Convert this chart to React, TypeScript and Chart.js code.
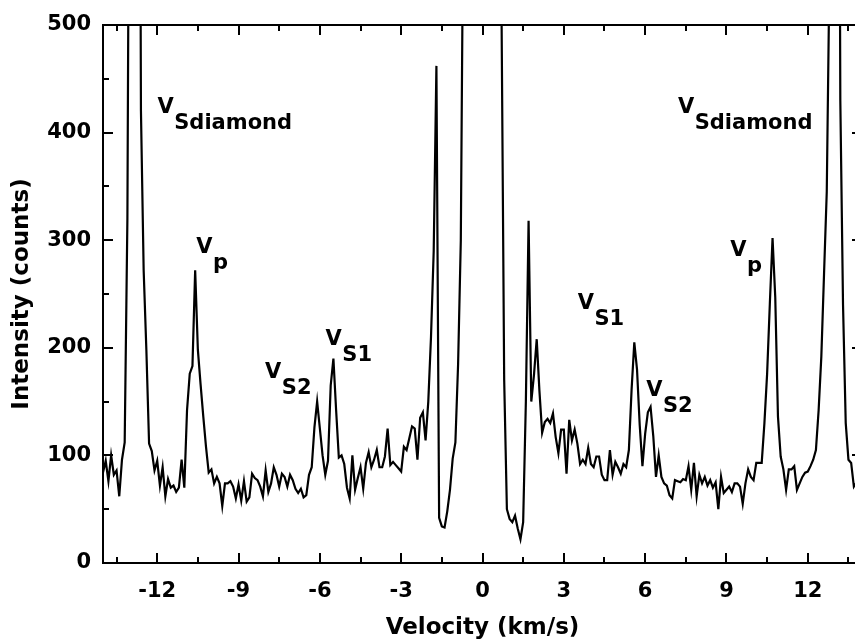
import React, { useEffect, useRef } from 'react';
import { Chart, registerables } from 'chart.js';

Chart.register(...registerables);

// Velocity channel grid (km/s)
const velocityStart = -14;
const velocityStep = 0.1;

// Intensity (counts), one value per 0.1 km/s channel from -14.0 to 14.0
const intensity: number[] = [
  // -14.0 .. -13.1
  84, 95, 76, 100, 82, 86, 62, 96, 112, 320,
  // -13.0 .. -12.1
  900, 1500, 1800, 1200, 420, 272, 198, 111, 104, 86,
  // -12.0 .. -11.1
  95, 72, 89, 62, 78, 70, 72, 66, 70, 96,
  // -11.0 .. -10.1
  70, 142, 176, 183, 272, 198, 166, 136, 108, 84,
  // -10.0 .. -9.1
  87, 74, 80, 74, 53, 74, 74, 76, 71, 60,
  // -9.0 .. -8.1
  73, 58, 76, 57, 61, 83, 79, 77, 71, 62,
  // -8.0 .. -7.1
  86, 66, 74, 89, 82, 71, 83, 80, 71, 82,
  // -7.0 .. -6.1
  77, 69, 65, 69, 61, 63, 82, 89, 126, 150,
  // -6.0 .. -5.1
  125, 100, 82, 95, 165, 190, 142, 98, 100, 92,
  // -5.0 .. -4.1
  70, 60, 100, 68, 79, 89, 69, 93, 103, 89,
  // -4.0 .. -3.1
  96, 105, 89, 89, 99, 125, 91, 94, 91, 88,
  // -3.0 .. -2.1
  85, 108, 105, 116, 127, 125, 96, 135, 140, 114,
  // -2.0 .. -1.1
  150, 210, 290, 462, 42, 34, 33, 48, 68, 97,
  // -1.0 .. -0.1
  112, 185, 300, 650, 1500, 3000, 5000, 7000, 8000, 9000,
  // 0.0 .. 0.9
  9000, 9000, 8000, 7000, 5000, 3000, 1500, 520, 170, 50,
  // 1.0 .. 1.9
  41, 38, 44, 32, 22, 38, 150, 318, 150, 175,
  // 2.0 .. 2.9
  208, 160, 121, 131, 134, 130, 139, 117, 102, 124,
  // 3.0 .. 3.9
  124, 83, 133, 114, 124, 111, 92, 96, 92, 107,
  // 4.0 .. 4.9
  92, 89, 99, 99, 82, 77, 77, 105, 82, 94,
  // 5.0 .. 5.9
  89, 83, 92, 89, 105, 161, 205, 180, 128, 90,
  // 6.0 .. 6.9
  120, 140, 145, 118, 80, 100, 80, 74, 72, 63,
  // 7.0 .. 7.9
  60, 77, 76, 75, 78, 77, 90, 68, 93, 62,
  // 8.0 .. 8.9
  82, 74, 80, 72, 77, 70, 75, 50, 80, 65,
  // 9.0 .. 9.9
  68, 71, 66, 74, 74, 71, 55, 74, 87, 80,
  // 10.0 .. 10.9
  77, 93, 93, 93, 130, 176, 241, 302, 247, 136,
  // 11.0 .. 11.9
  99, 87, 68, 87, 87, 90, 68, 74, 80, 84,
  // 12.0 .. 12.9
  85, 90, 96, 105, 142, 192, 269, 345, 550, 1500,
  // 13.0 .. 13.9
  1800, 1200, 430, 240, 130, 96, 93, 71, 75, 80,
  // 14.0
  78,
];

const velocity: number[] = intensity.map((_, i) => +(velocityStart + i * velocityStep).toFixed(2));

const xMajorTicks = [-12, -9, -6, -3, 0, 3, 6, 9, 12];
const xMinorTicks = [-13.5, -10.5, -7.5, -4.5, -1.5, 1.5, 4.5, 7.5, 10.5, 13.5];
const yMajorTicks = [0, 100, 200, 300, 400, 500];
const yMinorTicks = [50, 150, 250, 350, 450];

// Peak labels: main letter, subscript, anchor (velocity, intensity)
const peakLabels = [
  { main: 'V', sub: 'Sdiamond', v: -11.99, i: 418 },
  { main: 'V', sub: 'p', v: -10.56, i: 288 },
  { main: 'V', sub: 'S2', v: -8.02, i: 172 },
  { main: 'V', sub: 'S1', v: -5.79, i: 203 },
  { main: 'V', sub: 'S1', v: 3.51, i: 236 },
  { main: 'V', sub: 'S2', v: 6.04, i: 155 },
  { main: 'V', sub: 'p', v: 9.14, i: 285 },
  { main: 'V', sub: 'Sdiamond', v: 7.21, i: 418 },
];

const FONT = '"DejaVu Sans", "Liberation Sans", sans-serif';

const framePlugin = {
  id: 'framePlugin',
  afterDatasetsDraw(chart: any) {
    const { ctx, chartArea: a, scales } = chart;
    const x = scales.x;
    const y = scales.y;
    ctx.save();
    ctx.strokeStyle = '#000';
    ctx.lineWidth = 2;
    ctx.beginPath();
    const major = 10;
    const minor = 6;
    const xt = (vals: number[], len: number) => {
      vals.forEach((v) => {
        const px = Math.round(x.getPixelForValue(v));
        ctx.moveTo(px, a.bottom);
        ctx.lineTo(px, a.bottom - len);
        ctx.moveTo(px, a.top);
        ctx.lineTo(px, a.top + len);
      });
    };
    const yt = (vals: number[], len: number) => {
      vals.forEach((v) => {
        const py = Math.round(y.getPixelForValue(v));
        ctx.moveTo(a.left, py);
        ctx.lineTo(a.left + len, py);
        ctx.moveTo(a.right, py);
        ctx.lineTo(a.right - len, py);
      });
    };
    xt(xMajorTicks, major);
    xt(xMinorTicks, minor);
    yt(yMajorTicks, major);
    yt(yMinorTicks, minor);
    ctx.stroke();
    ctx.strokeRect(a.left, a.top, a.right - a.left, a.bottom - a.top);

    ctx.fillStyle = '#000';
    ctx.textBaseline = 'alphabetic';
    ctx.textAlign = 'left';
    peakLabels.forEach((l) => {
      const px = x.getPixelForValue(l.v);
      const py = y.getPixelForValue(l.i);
      ctx.font = `bold 21px ${FONT}`;
      ctx.fillText(l.main, px, py);
      const w = ctx.measureText(l.main).width;
      ctx.font = `bold 21px ${FONT}`;
      ctx.fillText(l.sub, px + w + 0.5, py + 16);
    });
    ctx.restore();
  },
};

export default function App() {
  const ref = useRef<HTMLCanvasElement | null>(null);

  useEffect(() => {
    if (!ref.current) return;
    const chart = new Chart(ref.current, {
      type: 'line',
      data: {
        datasets: [
          {
            data: velocity.map((v, k) => ({ x: v, y: intensity[k] })),
            borderColor: '#000',
            borderWidth: 2.2,
            pointRadius: 0,
            tension: 0,
            fill: false,
            clip: 0,
          },
        ],
      },
      options: {
        animation: false,
        responsive: false,
        devicePixelRatio: 1,
        layout: { padding: { left: 0, top: 25, right: 8, bottom: 0 } },
        plugins: { legend: { display: false }, tooltip: { enabled: false } },
        scales: {
          x: {
            type: 'linear',
            min: -14,
            max: 14,
            afterBuildTicks: (s: any) => {
              s.ticks = xMajorTicks.map((v) => ({ value: v }));
            },
            afterFit: (s: any) => {
              s.height = 81;
            },
            grid: { display: false, drawTicks: false },
            border: { display: false },
            ticks: {
              color: '#000',
              padding: 16,
              maxRotation: 0,
              autoSkip: false,
              font: { family: FONT, size: 21, weight: 'bold' },
            },
            title: {
              display: true,
              text: 'Velocity (km/s)',
              color: '#000',
              font: { family: FONT, size: 23, weight: 'bold' },
              padding: { top: 0, bottom: 2 },
            },
          },
          y: {
            type: 'linear',
            min: 0,
            max: 500,
            afterBuildTicks: (s: any) => {
              s.ticks = yMajorTicks.map((v) => ({ value: v }));
            },
            afterFit: (s: any) => {
              s.width = 103;
            },
            grid: { display: false, drawTicks: false },
            border: { display: false },
            ticks: {
              color: '#000',
              padding: 12,
              font: { family: FONT, size: 21, weight: 'bold' },
            },
            title: {
              display: true,
              text: 'Intensity (counts)',
              color: '#000',
              font: { family: FONT, size: 23, weight: 'bold' },
              padding: { top: 8, bottom: 0 },
            },
          },
        },
      },
      plugins: [framePlugin],
    } as any);
    return () => chart.destroy();
  }, []);

  return (
    <div
      style={{
        position: 'absolute',
        left: 0,
        top: 0,
        width: 855,
        height: 644,
        overflow: 'hidden',
        background: '#fff',
      }}
    >
      <canvas ref={ref} width={870} height={644} style={{ display: 'block', width: 870, height: 644 }} />
    </div>
  );
}
